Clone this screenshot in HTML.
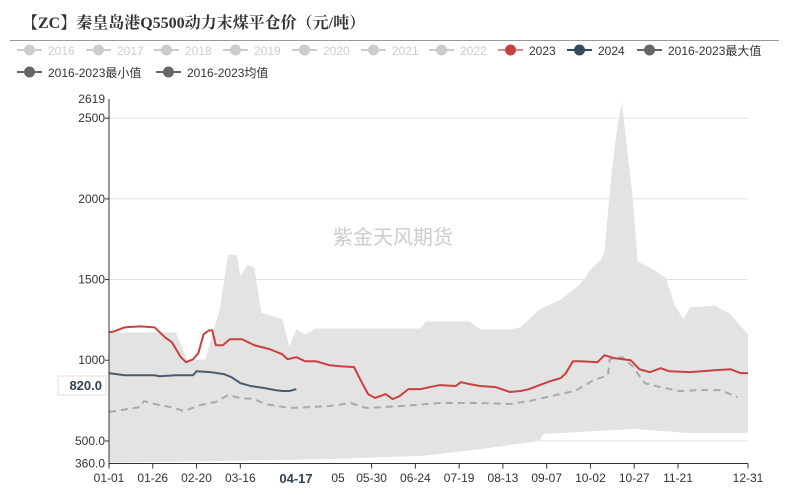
<!DOCTYPE html>
<html><head><meta charset="utf-8"><style>
body{margin:0;background:#fff;width:789px;height:490px;overflow:hidden;font-family:"Liberation Sans","Noto Sans CJK SC",sans-serif}
</style></head><body>
<svg id="c" width="789" height="490" xmlns="http://www.w3.org/2000/svg">
<text x="22" y="28" font-family="'Liberation Serif','Noto Serif CJK SC',serif" font-weight="bold" font-size="16" fill="#333">【ZC】秦皇岛港Q5500动力末煤平仓价（元/吨）</text>
<line x1="10" y1="40.5" x2="779" y2="40.5" stroke="#999" stroke-width="1"/>
<g id="legend"></g>
<g id="grid"></g>
<g id="plot"></g>
<text x="393" y="244" text-anchor="middle" font-size="20" fill="#ccc">紫金天风期货</text>
<g id="axes"></g>
</svg>
<script>
const maxDays=[0,38,41,45,55,61,63,68,73,75,79,83,87,99,103,107,112,118,178,181,206,212,229,235,246,258,269,275,281,283,287,290,293,296,299,302,309,318,323,328,332,346,355,365];
const maxVals=[1173,1173,1099,994,1006,1234,1302,1654,1654,1518,1592,1574,1296,1253,1086,1191,1160,1197,1197,1240,1240,1191,1191,1204,1315,1376,1469,1561,1623,1672,2148,2425,2600,2302,2024,1611,1574,1512,1345,1253,1327,1339,1284,1160];
const minDays=[0,60,130,180,213,246,248,280,300,330,365];
const minVals=[365,375,389,408,451,500,543,562,574,550,550];
const avgDays=[0,18,20,26,35,43,52,61,68,75,83,89,103,126,138,147,167,189,212,229,240,255,266,277,285,286,293,299,306,315,326,337,349,359];
const avgVals=[679,710,747,729,710,685,722,741,784,766,759,729,704,716,735,704,716,735,735,729,747,784,809,877,907,1006,1019,963,858,833,809,815,815,772];
const d23Days=[0,3,9,18,26,32,36,41,44,48,51,54,57,59,61,65,69,76,83,92,99,102,107,112,118,126,132,140,144,148,152,158,162,166,171,178,183,189,198,201,206,212,221,229,235,240,246,252,258,261,265,269,279,283,289,298,303,309,315,320,332,346,355,361,365];
const d23Vals=[1173,1179,1204,1210,1204,1142,1111,1019,988,1006,1043,1160,1185,1185,1093,1093,1130,1130,1093,1068,1037,1006,1019,994,994,969,963,957,870,790,766,790,759,778,821,821,833,846,840,864,852,840,833,803,809,821,846,870,889,920,994,994,988,1031,1012,1000,944,926,951,932,926,938,944,920,920];
const d24Days=[0,9,15,26,29,38,48,50,58,66,70,75,81,89,95,99,103,107];
const d24Vals=[920,907,907,907,901,907,907,932,926,913,895,858,840,827,815,809,809,821];
const yTicks=[2500,2000,1500,1000,500];
const yLabels=["2500","2000","1500","1000","500.0"];
const xTickDays=[0,25,50,75,150,175,200,225,250,275,300,325,365];
const xTickLabels=["01-01","01-26","02-20","03-16","05-30","06-24","07-19","08-13","09-07","10-02","10-27","11-21","12-31"];
const Y0=360,Y1=2619;
const PX0=109,PX1=748,PY0=463.5,PY1=99;
const X=d=>PX0+d*(PX1-PX0)/365;
const Y=v=>PY0-(v-Y0)*(PY0-PY1)/(Y1-Y0);
const NS="http://www.w3.org/2000/svg";
function mk(tag,parent,attrs){const e=document.createElementNS(NS,tag);for(const k in attrs)e.setAttribute(k,attrs[k]);parent.appendChild(e);return e;}
const grid=document.getElementById('grid'),plot=document.getElementById('plot'),axes=document.getElementById('axes'),leg=document.getElementById('legend');
yTicks.forEach((v,i)=>{
  const l=mk('line',grid,{x1:PX0,x2:PX1,y1:Y(v),y2:Y(v),stroke:'#e0e0e0'});
  
  
  const t=mk('text',axes,{x:PX0-4,y:Y(v)+4,'text-anchor':'end','font-size':12,fill:'#333'});t.textContent=yLabels[i];
  
  
  mk('line',axes,{x1:PX0-4,x2:PX0,y1:Y(v),y2:Y(v),stroke:'#333'});
});
[[Y1,"2619"],[Y0,"360.0"]].forEach(([v,s])=>{const t=mk('text',axes,{x:PX0-4,y:Y(v)+4,'text-anchor':'end','font-size':12,fill:'#333'});t.textContent=s;
  
  });
let bp=maxDays.map((d,i)=>X(d)+','+Y(maxVals[i]));
bp=bp.concat(minDays.slice().reverse().map((d,j)=>{const i=minDays.length-1-j;return X(d)+','+Y(minVals[i]);}));
const band=mk('polygon',plot,{points:bp.join(' '),fill:'#e3e3e3'});


function line(ds,vs,col,name,dash){const p=mk('polyline',plot,{points:ds.map((d,i)=>X(d)+','+Y(vs[i])).join(' '),fill:'none',stroke:col,'stroke-width':2,'stroke-linejoin':'round'});if(dash)p.setAttribute('stroke-dasharray',dash);
  
  }
line(avgDays,avgVals,'#aaa','avg-line','7,5');
line(d23Days,d23Vals,'#c9413f','line-2023');
line(d24Days,d24Vals,'#4a5d70','line-2024');
mk('line',axes,{x1:PX0,x2:PX0,y1:PY1,y2:PY0,stroke:'#333'});
mk('line',axes,{x1:PX0,x2:PX1,y1:PY0,y2:PY0,stroke:'#333'});
xTickDays.forEach((d,i)=>{mk('line',axes,{x1:X(d),x2:X(d),y1:PY0,y2:PY0+5,stroke:'#333'});
  const t=mk('text',axes,{x:X(d),y:482,'text-anchor':'middle','font-size':12,fill:'#333'});t.textContent=xTickLabels[i];
  
  });
const t5=mk('text',axes,{x:338,y:482,'font-size':12,fill:'#333','text-anchor':'middle'});t5.textContent="05";
mk('rect',axes,{x:272,y:467,width:48,height:20,fill:'#fff'});
const ht=mk('text',axes,{x:296,y:483,'text-anchor':'middle','font-size':13,'font-weight':'bold',fill:'#334455'});ht.textContent="04-17";


mk('rect',axes,{x:58,y:376,width:48,height:19,fill:'#fff',stroke:'#ddd'});
const yl=mk('text',axes,{x:102,y:390,'text-anchor':'end','font-size':13,'font-weight':'bold',fill:'#334455'});yl.textContent="820.0";


const items=[["2016",'#ccc','#ccc',17,50],["2017",'#ccc','#ccc',86,50],["2018",'#ccc','#ccc',154,50],["2019",'#ccc','#ccc',223,50],["2020",'#ccc','#ccc',292,50],["2021",'#ccc','#ccc',361,50],["2022",'#ccc','#ccc',429,50],["2023",'#c9413f','#333',498,50],["2024",'#34495a','#333',567,50],["2016-2023最大值",'#666','#333',637,50],["2016-2023最小值",'#666','#333',17,72],["2016-2023均值",'#666','#333',156,72]];
items.forEach(([s,c,tc,x,y])=>{const g=mk('g',leg,{});
  
  
  mk('line',g,{x1:x,x2:x+25,y1:y,y2:y,stroke:c,'stroke-width':2,opacity:c=='#c9413f'?0.6:1});
  mk('circle',g,{cx:x+12.5,cy:y,r:5.5,fill:c});
  const t=mk('text',g,{x:x+31,y:y+5,'font-size':12,fill:tc});t.textContent=s;});
</script>
</body></html>
